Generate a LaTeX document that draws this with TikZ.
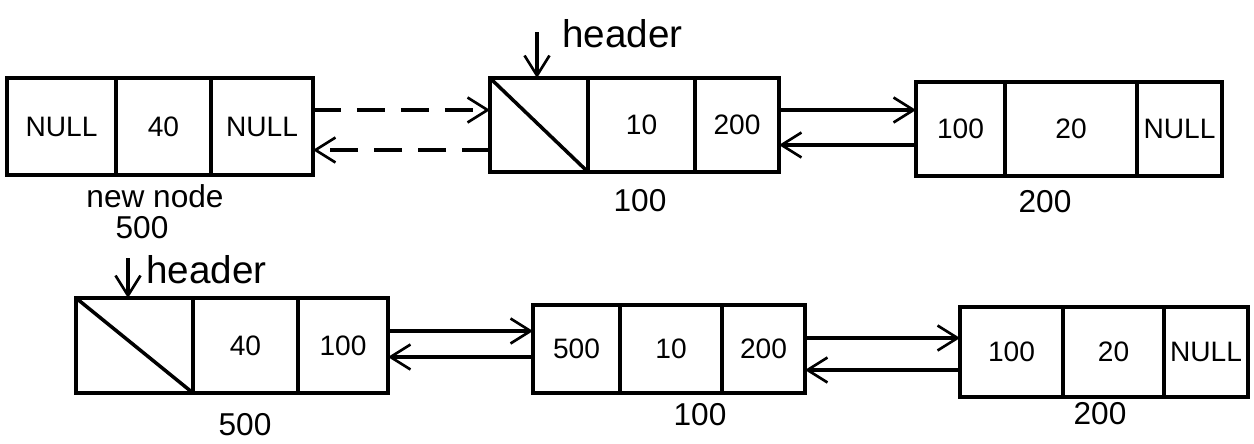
\documentclass[tikz,border=0pt]{standalone}
\usepackage{fontspec}
\setmainfont{Liberation Sans}
\usetikzlibrary{fit,arrows.meta}
\begin{document}
\begin{tikzpicture}[x=0.02cm,y=-0.02cm,
  cell/.style={draw,line width=2pt,inner sep=0pt,outer sep=0pt},
  txt/.style={font=\fontsize{16}{18}\selectfont,inner sep=0pt},
  lbl/.style={font=\fontsize{18}{20}\selectfont,inner sep=0pt},
  hdr/.style={font=\fontsize{22}{24}\selectfont,inner sep=0pt},
  link/.style={line width=1.8pt,-{Straight Barb[length=4mm,width=5mm,line width=1.5pt]}},
  dlink/.style={link,dash pattern=on 16pt off 9pt}]
\useasboundingbox (0,0) rectangle (1254,443);
\newcommand\cellbox[6]{\node[cell,fit={(#2,#3) (#4,#5)}] (#1) {};
  \node[txt] (#1t) at (#1.center) {#6};}
% top row
\cellbox{a1}{7}{78}{116}{175}{NULL}
\cellbox{a2}{116}{78}{211}{175}{40}
\cellbox{a3}{211}{78}{313}{175}{NULL}
\cellbox{b1}{490}{78}{588}{172}{}
\cellbox{b2}{588}{78}{695}{172}{10}
\cellbox{b3}{695}{78}{779}{172}{200}
\cellbox{c1}{916}{82}{1005}{176}{100}
\cellbox{c2}{1005}{82}{1137}{176}{20}
\cellbox{c3}{1137}{82}{1222}{176}{NULL}
\draw[line width=2pt] (b1.north west) -- (b1.south east);
% bottom row
\cellbox{d1}{76}{298}{193}{393}{}
\cellbox{d2}{193}{298}{298}{393}{40}
\cellbox{d3}{298}{298}{388}{393}{100}
\cellbox{e1}{533}{305}{620}{393}{500}
\cellbox{e2}{620}{305}{722}{393}{10}
\cellbox{e3}{722}{305}{805}{393}{200}
\cellbox{f1}{960}{307}{1063}{397}{100}
\cellbox{f2}{1063}{307}{1164}{397}{20}
\cellbox{f3}{1164}{307}{1248}{397}{NULL}
\draw[line width=2pt] (d1.north west) -- (d1.south east);
% link heights
\coordinate (y1) at (0,110);
\coordinate (y2) at (0,150);
\coordinate (y3) at (0,110);
\coordinate (y4) at (0,145);
\coordinate (y5) at (0,331);
\coordinate (y6) at (0,357);
\coordinate (y7) at (0,338);
\coordinate (y8) at (0,370);
\draw[dlink] (a3.east |- y1) -- (b1.west |- y1);
\draw[dlink] (b1.west |- y2) -- (a3.east |- y2);
\draw[link] (b3.east |- y3) -- (c1.west |- y3);
\draw[link] (c1.west |- y4) -- (b3.east |- y4);
\draw[link] (d3.east |- y5) -- (e1.west |- y5);
\draw[link] (e1.west |- y6) -- (d3.east |- y6);
\draw[link] (e3.east |- y7) -- (f1.west |- y7);
\draw[link] (f1.west |- y8) -- (e3.east |- y8);
% header pointers
\node[hdr,anchor=west] (h1) at (562,34) {header};
\coordinate (h1s) at (537,32);
\draw[link] (h1s) -- (h1s |- b1.north);
\node[hdr,anchor=west] (h2) at (146,270) {header};
\coordinate (h2s) at (128,258);
\draw[link] (h2s) -- (h2s |- d1.north);
% address labels
\node[lbl] (l1) at (155,196) {new node};
\node[lbl] (l2) at (142,228) {500};
\node[lbl] (l3) at (640,201) {100};
\node[lbl] (l4) at (1045,202) {200};
\node[lbl] (l5) at (245,425) {500};
\node[lbl] (l6) at (700,415) {100};
\node[lbl] (l7) at (1100,414) {200};
\end{tikzpicture}
\end{document}
